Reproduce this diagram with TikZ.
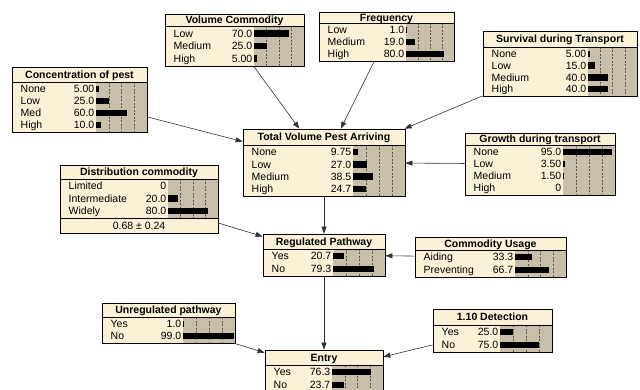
\documentclass[tikz,border=0pt]{standalone}
\usepackage{fontspec}
\setmainfont{Liberation Sans}
\usetikzlibrary{arrows.meta}
\definecolor{bodyc}{RGB}{250,241,214}
\definecolor{barc}{RGB}{200,191,170}
\definecolor{edgec}{RGB}{50,50,50}
\definecolor{dashc}{RGB}{90,85,75}
\tikzset{
  nbox/.style={draw=black, line width=0.7pt, fill=bodyc, inner sep=0pt, rectangle},
  ttl/.style={font=\fontsize{10.5}{10.5}\selectfont\bfseries, inner sep=0pt, anchor=base},
  lbl/.style={font=\fontsize{10.5}{10.5}\selectfont, inner sep=0pt, anchor=base west},
  val/.style={font=\fontsize{10.5}{10.5}\selectfont, inner sep=0pt, anchor=base east},
  qline/.style={draw=dashc, line width=0.4pt, dash pattern=on 2pt off 1.5pt},
  conn/.style={draw=edgec, line width=0.6pt, -{Triangle[length=7pt,width=5pt]}},
}
\newcount\nrows
% #1 name #2 x1 #3 y1 #4 x2 #5 title bottom #6 bar bottom #7 box bottom #8 bar left #9 title
\newcommand\netnode[9]{%
  \pgfmathsetmacro\cx{(#2+#4)/2}%
  \pgfmathsetmacro\cy{(#3+#7)/2}%
  \pgfmathsetmacro\ww{#4-#2}%
  \pgfmathsetmacro\hh{#7-#3}%
  \pgfmathsetmacro\bw{#4-#8}%
  \node[nbox, minimum width=\ww pt, minimum height=\hh pt] (#1) at (\cx,\cy) {};
  \fill[barc] (#8,#5) rectangle (#4,#6);
  \foreach \f in {0.25,0.5,0.75} {\draw[qline] ({#8+\f*\bw},#5) -- ({#8+\f*\bw},#6);}
  \draw[line width=0.6pt] (#2,#5) -- (#4,#5);
  \pgfmathsetmacro\ty{(#3+#5)/2+3.7}%
  \node[ttl] at (\cx,\ty) {#9};
  \global\nrows=0
  \foreach \xx in \rowlist {\global\advance\nrows by 1}
  \foreach \la/\va/\pa [count=\i] in \rowlist {
    \pgfmathsetmacro\ry{#5+1+(\i-0.5)*(#6-#5-2)/\nrows}
    \node[lbl] at (#2+8.5,\ry+3.7) {\la};
    \node[val] at (#8-1.5,\ry+3.7) {\va};
    \ifdim\pa pt>0pt
      \fill[black] (#8,\ry-3.2) rectangle ({#8+\pa/100*\bw},\ry+3.2);
    \fi
  }
  \draw[line width=0.7pt] (#2,#3) rectangle (#4,#7);
}
\begin{document}
\begin{tikzpicture}[x=1pt,y=-1pt]
\useasboundingbox (0,0) rectangle (640,390);
\fill[white] (0,0) rectangle (640,390);

\def\rowlist{Low/70.0/70,Medium/25.0/25,High/5.00/5}
\netnode{vc}{165}{14}{304}{26}{66}{66}{254}{Volume Commodity}

\def\rowlist{Low/1.0/1,Medium/19.0/19,High/80.0/80}
\netnode{freq}{319}{12}{454}{23}{61}{61}{406}{Frequency}

\def\rowlist{None/5.00/5,Low/15.0/15,Medium/40.0/40,High/40.0/40}
\netnode{surv}{483}{31}{637}{47}{96}{96}{588}{Survival during Transport}

\def\rowlist{None/5.00/5,Low/25.0/25,Med/60.0/60,High/10.0/10}
\netnode{conc}{12}{67}{147}{82}{132}{132}{96}{Concentration of pest}

\def\rowlist{None/9.75/9.75,Low/27.0/27,Medium/38.5/38.5,High/24.7/24.7}
\netnode{tvpa}{243}{129}{405}{145}{196}{196}{353}{Total Volume Pest Arriving}

\def\rowlist{None/95.0/95,Low/3.50/3.5,Medium/1.50/1.5,High/0/0}
\netnode{grow}{465}{133}{615}{145}{195}{195}{563}{Growth during transport}

\def\rowlist{Limited/0/0,Intermediate/20.0/20,Widely/80.0/80}
\netnode{dist}{60}{165}{218}{179}{218}{233}{168}{Distribution commodity}
\draw[line width=0.6pt] (60,218) -- (218,218);
\node[font=\fontsize{10.5}{10.5}\selectfont, inner sep=0pt, anchor=base] (distmean) at (139,229.5) {0.68 ± 0.24};

\def\rowlist{Yes/20.7/20.7,No/79.3/79.3}
\netnode{rp}{263}{234}{385}{249}{276}{276}{333}{Regulated Pathway}

\def\rowlist{Aiding/33.3/33.3,Preventing/66.7/66.7}
\netnode{cu}{415}{237}{566}{250}{277}{277}{515}{Commodity Usage}

\def\rowlist{Yes/1.0/1,No/99.0/99}
\netnode{unreg}{102}{303}{235}{317}{343}{343}{183}{Unregulated pathway}

\def\rowlist{Yes/25.0/25,No/75.0/75}
\netnode{det}{433}{309}{552}{325}{352}{352}{500}{1.10 Detection}

\def\rowlist{Yes/76.3/76.3,No/23.7/23.7}
\netnode{entry}{265}{350}{383}{365}{392}{392}{332}{Entry}

\draw[conn] (vc) -- (tvpa);
\draw[conn] (freq) -- (tvpa);
\draw[conn] (surv) -- (tvpa);
\draw[conn] (conc) -- (tvpa);
\draw[conn] (grow) -- (tvpa);
\draw[conn] (tvpa) -- (rp);
\draw[conn] (dist) -- (rp);
\draw[conn] (cu) -- (rp);
\draw[conn] (rp) -- (entry);
\draw[conn] (unreg) -- (entry);
\draw[conn] (det) -- (entry);
\end{tikzpicture}
\end{document}
